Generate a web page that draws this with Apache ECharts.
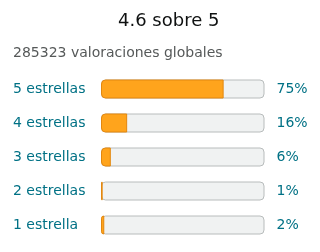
<!DOCTYPE html>
<html><head><meta charset="utf-8">
<script src="https://cdn.jsdelivr.net/npm/echarts@6/dist/echarts.min.js"></script>
<style>html,body{margin:0;padding:0;background:#fff}#c{width:320px;height:252px}</style>
</head><body><div id="c"></div>
<script>
var categories = ['5 estrellas', '4 estrellas', '3 estrellas', '2 estrellas', '1 estrella'];
var percents = [75, 16, 6, 1, 2];
var titleText = '4.6 sobre 5';
var subtitleText = '285323 valoraciones globales';
var axisMax = 100;

var chart = echarts.init(document.getElementById('c'), null, {renderer: 'canvas'});
var font = 'DejaVu Sans';
chart.setOption({
  animation: false,
  title: [
    {text: titleText, left: 118, top: 12, padding: 0,
     textStyle: {fontFamily: font, fontSize: 18, fontWeight: 'normal', color: '#0f1111'}},
    {text: subtitleText, left: 13, top: 46, padding: 0,
     textStyle: {fontFamily: font, fontSize: 14, fontWeight: 'normal', color: '#565959'}}
  ],
  grid: {left: 101, right: 55.5, top: 72, bottom: 10},
  xAxis: {type: 'value', min: 0, max: axisMax, show: false},
  yAxis: {
    type: 'category', data: categories, inverse: true,
    axisLine: {show: false}, axisTick: {show: false},
    axisLabel: {align: 'left', margin: 88, fontFamily: font, fontSize: 14, color: '#007185'}
  },
  series: [
    {
      type: 'bar', barWidth: 19, barGap: '-100%', silent: true, z: 1,
      data: categories.map(function(){ return axisMax; }),
      itemStyle: {color: '#f0f2f2', borderColor: '#b8bcbc', borderWidth: 1, borderRadius: 4},
      label: {show: true, position: 'right', distance: 12, fontFamily: font, fontSize: 14, color: '#007185',
        formatter: function(p){ return percents[p.dataIndex] + '%'; }}
    },
    {
      type: 'bar', barWidth: 19, barGap: '-100%', silent: true, z: 2,
      data: percents,
      itemStyle: {color: '#ffa41c', borderColor: '#e3870e', borderWidth: 1, borderRadius: [4, 0, 0, 4]}
    }
  ]
});
</script></body></html>
